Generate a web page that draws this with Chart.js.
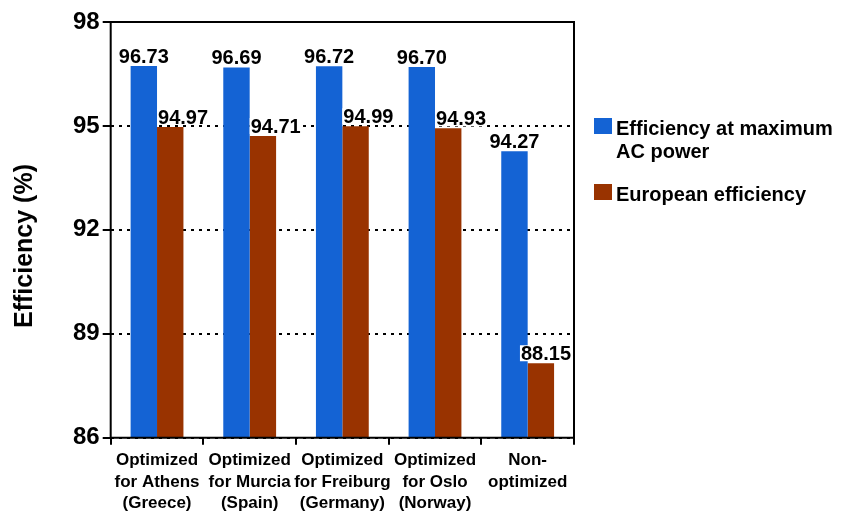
<!DOCTYPE html>
<html>
<head>
<meta charset="utf-8">
<script src="https://cdn.jsdelivr.net/npm/chart.js@4.4.1/dist/chart.umd.min.js"></script>
<style>
  body{margin:0;background:#fff;}
  #wrap{width:852px;height:513px;position:relative;}
</style>
</head>
<body>
<div id="wrap"><canvas id="chart"></canvas></div>
<script>
// data
const categories = [
  ['Optimized','for Athens','(Greece)'],
  ['Optimized','for Murcia','(Spain)'],
  ['Optimized','for Freiburg','(Germany)'],
  ['Optimized','for Oslo','(Norway)'],
  ['Non-','optimized']
];
const maxAcPower = [96.73, 96.69, 96.72, 96.70, 94.27];
const europeanEff = [94.97, 94.71, 94.99, 94.93, 88.15];
const yTicks = [86, 89, 92, 95, 98];
const seriesNames = ['Efficiency at maximum AC power', 'European efficiency'];
const legendLines = [['Efficiency at maximum','AC power'], ['European efficiency']];
const yTitle = 'Efficiency (%)';

const FONT = '"Liberation Sans", Arial, Helvetica, sans-serif';
const colors = ['#1463d4', '#993300'];

// frame + y title + legend
const decor = {
  id:'decor',
  afterDraw(chart){
    const {ctx, chartArea:a} = chart;
    ctx.save();
    ctx.strokeStyle='#000'; ctx.lineWidth=2;
    ctx.strokeRect(a.left, a.top, a.right-a.left, a.bottom-a.top);

    // y title
    ctx.fillStyle='#000';
    ctx.font='bold 25px '+FONT;
    ctx.textAlign='center'; ctx.textBaseline='middle';
    ctx.translate(25, 246); ctx.rotate(-Math.PI/2);
    ctx.fillText(yTitle, 0, 0);
    ctx.restore();

    // legend
    ctx.save();
    ctx.font='bold 20px '+FONT;
    ctx.textAlign='left'; ctx.textBaseline='alphabetic';
    const itemY = [118, 184];
    legendLines.forEach((lines,i)=>{
      ctx.fillStyle=colors[i];
      ctx.fillRect(594, itemY[i], 18, 16);
      ctx.fillStyle='#000';
      lines.forEach((t,j)=>ctx.fillText(t, 616, itemY[i]+17+j*23));
    });
    ctx.restore();
  }
};

// value labels on bars
const valueLabels = {
  id:'valueLabels',
  afterDraw(chart){
    const {ctx, chartArea:a} = chart;
    ctx.save();
    ctx.font='bold 20px '+FONT;
    ctx.textBaseline='alphabetic';
    chart.data.datasets.forEach((ds,di)=>{
      chart.getDatasetMeta(di).data.forEach((bar,i)=>{
        const txt = ds.data[i].toFixed(2);
        const w = ctx.measureText(txt).width;
        let x;
        if(di===0) x = bar.x - w/2;
        else x = Math.min(bar.x - bar.width/2 + 1, a.right - 3 - w);
        const y = bar.y - 3;
        ctx.fillStyle='#fff';
        ctx.fillRect(x-1, y-15, w+2, 16);
        ctx.fillStyle='#000';
        ctx.fillText(txt, x, y);
      });
    });
    ctx.restore();
  }
};

new Chart(document.getElementById('chart'), {
  type:'bar',
  data:{
    labels:categories,
    datasets:[
      {label:seriesNames[0], data:maxAcPower, backgroundColor:colors[0]},
      {label:seriesNames[1], data:europeanEff, backgroundColor:colors[1]}
    ]
  },
  options:{
    responsive:true,
    maintainAspectRatio:false,
    animation:false,
    layout:{padding:{left:70, right:278, top:22, bottom:-6}},
    plugins:{legend:{display:false}, tooltip:{enabled:false}},
    datasets:{bar:{categoryPercentage:0.57, barPercentage:1.0}},
    scales:{
      x:{
        grid:{offset:true, drawOnChartArea:false, color:'#000', lineWidth:2, tickLength:7},
        border:{display:false},
        ticks:{color:'#000', font:{family:FONT, size:17, weight:'bold', lineHeight:1.26}, padding:5, maxRotation:0, autoSkip:false}
      },
      y:{
        min:yTicks[0], max:yTicks[yTicks.length-1],
        afterBuildTicks(scale){ scale.ticks = yTicks.map(v=>({value:v})); },
        grid:{color:'#000', lineWidth:2, tickLength:8, tickBorderDash:[]},
        border:{display:false, dash:[3,5]},
        ticks:{color:'#000', font:{family:FONT, size:24, weight:'bold'}, padding:3}
      }
    }
  },
  plugins:[decor, valueLabels]
});
</script>
</body>
</html>
